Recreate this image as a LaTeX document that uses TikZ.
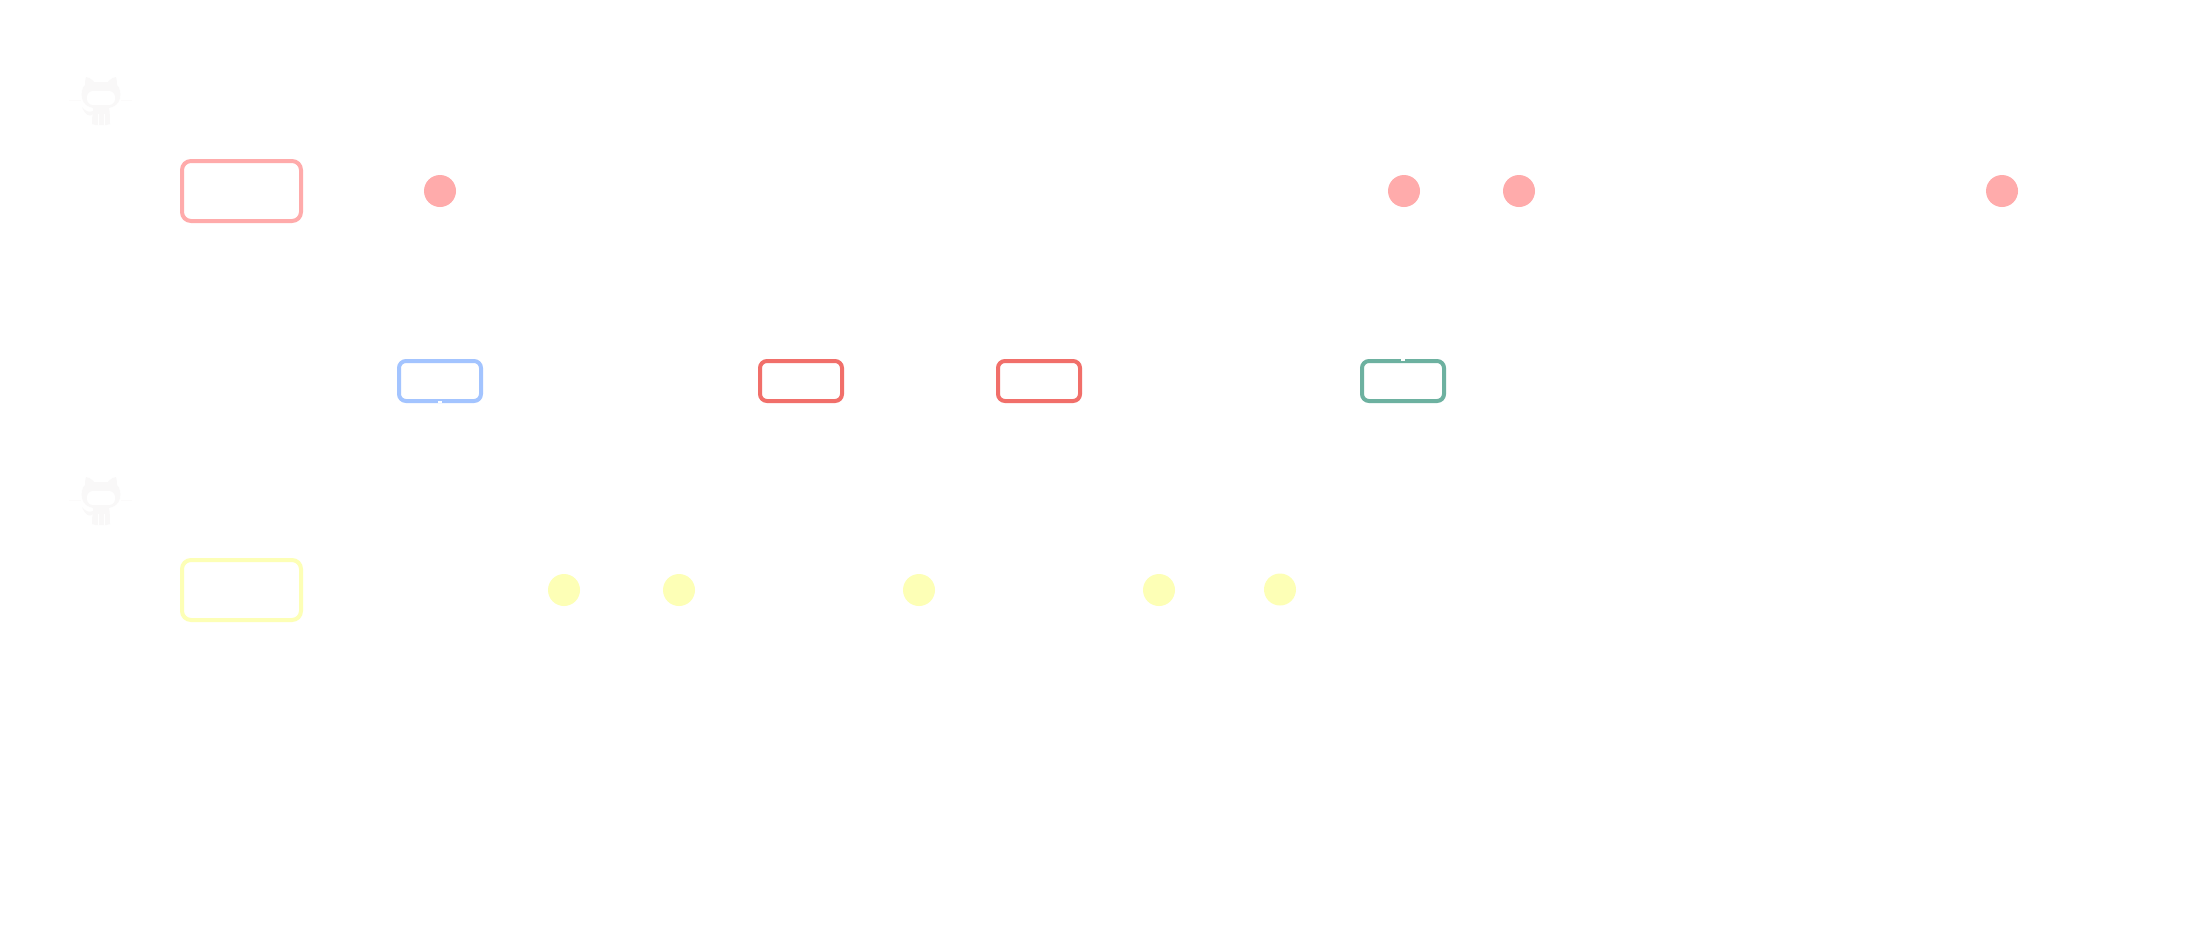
\documentclass[tikz,border=0pt]{standalone}
\definecolor{pinkc}{HTML}{FFABAB}
\definecolor{yellowc}{HTML}{FDFFB6}
\definecolor{bluec}{HTML}{A3C4FF}
\definecolor{redc}{HTML}{F16F6A}
\definecolor{greenc}{HTML}{6DB1A0}
\definecolor{catc}{HTML}{F9F8F8}
\definecolor{whiskerc}{HTML}{FCFBFB}
\tikzset{
  bigbox/.style={draw=#1,line width=4pt,rounded corners=9pt,minimum width=119pt,minimum height=60pt,inner sep=0pt,fill=white},
  smallbox/.style={draw=#1,line width=4pt,rounded corners=7pt,minimum width=82pt,minimum height=40pt,inner sep=0pt,fill=white},
  dot/.style={circle,fill=#1,minimum size=32pt,inner sep=0pt},
  notch/.style={fill=white,draw=none},
  pics/octocat/.style={code={
    \fill[catc] (-15,-23) .. controls (-10,-22) and (-8,-19) .. (-7,-18)
      -- (7,-18) .. controls (8,-19) and (10,-22) .. (15,-23)
      .. controls (16,-19) and (16,-17) .. (16,-15)
      .. controls (19,-12) and (20,-7) .. (19,-2)
      .. controls (18,4) and (13,7) .. (8,8)
      .. controls (9,12) and (9,20) .. (9,24)
      -- (5,25) -- (-5,25) -- (-9,24)
      .. controls (-9,20) and (-9,16) .. (-8,14)
      .. controls (-12,18) and (-16,14) .. (-19,7)
      .. controls (-16,11) and (-12,13) .. (-8,11)
      -- (-8,8)
      .. controls (-13,7) and (-18,4) .. (-19,-2)
      .. controls (-20,-7) and (-19,-12) .. (-16,-15)
      .. controls (-16,-17) and (-16,-19) .. (-15,-23) -- cycle;
    \fill[white,rounded corners=6pt] (-14,-9) rectangle (14,5);
    \draw[white,line width=.7pt] (-3,14) -- (-3,25) (3,14) -- (3,25);
    \draw[whiskerc,line width=.6pt] (-32,0) -- (-20,0) (20,0) -- (31,0);
  }}
}
\begin{document}
\begin{tikzpicture}[x=1pt,y=-1pt]
\useasboundingbox[fill=white] (0,0) rectangle (2202,924);
\pic at (101,100) {octocat};
\pic at (101,500) {octocat};
\node[bigbox=pinkc] (pinkbox) at (241.5,191) {};
\node[bigbox=yellowc] (yellowbox) at (241.5,590) {};
\node[smallbox=bluec] (bluebox) at (440,381) {};
\node[smallbox=redc] (redboxa) at (801,381) {};
\node[smallbox=redc] (redboxb) at (1039,381) {};
\node[smallbox=greenc] (greenbox) at (1403,381) {};
\node[dot=pinkc] (pa) at (440,191) {};
\node[dot=pinkc] (pb) at (1404,191) {};
\node[dot=pinkc] (pc) at (1519,191) {};
\node[dot=pinkc] (pd) at (2002,191) {};
\node[dot=yellowc] (ya) at (564,590) {};
\node[dot=yellowc] (yb) at (679,590) {};
\node[dot=yellowc] (yc) at (919,590) {};
\node[dot=yellowc] (yd) at (1159,590) {};
\node[dot=yellowc] (ye) at (1280,589.5) {};
\fill[notch] ([xshift=-2.2pt]bluebox.south) rectangle ([xshift=2.2pt,yshift=2.4pt]bluebox.south);
\fill[notch] ([xshift=-2.2pt]greenbox.north) rectangle ([xshift=2.2pt,yshift=-2.4pt]greenbox.north);
\end{tikzpicture}
\end{document}
